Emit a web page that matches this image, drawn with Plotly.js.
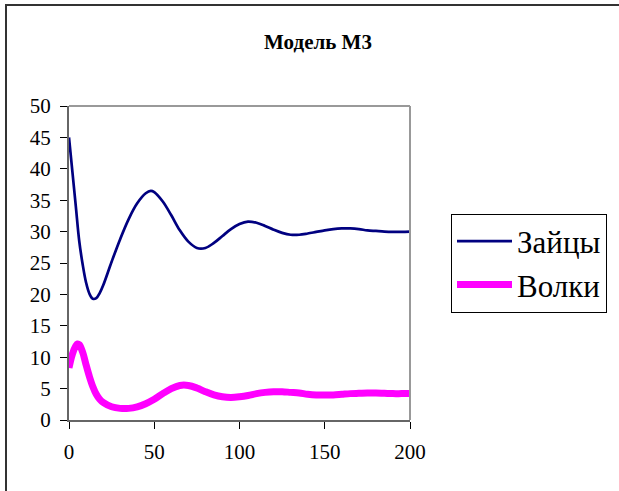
<!DOCTYPE html>
<html>
<head>
<meta charset="utf-8">
<script src="https://cdn.plot.ly/plotly-3.0.1.min.js"></script>
<style>
html,body{margin:0;padding:0;background:#fff;}
#wrap{position:relative;width:619px;height:491px;overflow:hidden;}
#frame{position:absolute;left:5px;top:4px;width:700px;height:600px;border:2px solid #333;box-sizing:border-box;pointer-events:none;z-index:5;}
#chart{position:absolute;left:0;top:0;width:619px;height:491px;}
</style>
</head>
<body>
<div id="wrap"><div id="chart"></div><div id="frame"></div></div>
<script>
const titleText = "Модель М3";
const seriesNames = ["Зайцы", "Волки"];

const tHares = [0,2,4,6,8,10,12,14,16,18,20,25,30,35,40,45,48,50,55,60,65,70,75,80,85,90,95,100,105,110,115,120,125,130,135,140,145,150,155,160,165,170,175,180,185,190,195,200];
const hares  = [45,39.5,34,28.5,24.8,21.9,20.1,19.3,19.4,20.2,21.4,25.2,28.8,32.0,34.5,36.1,36.5,36.3,34.8,32.6,30.2,28.4,27.4,27.4,28.2,29.3,30.4,31.2,31.6,31.4,30.9,30.3,29.8,29.5,29.5,29.7,29.95,30.2,30.4,30.5,30.5,30.4,30.2,30.1,30.0,29.95,29.95,30.0];

const tWolves = [0,2,4,5,6,8,10,12,14,16,18,20,25,30,35,40,45,50,55,60,65,70,75,80,85,90,95,100,105,110,115,120,125,130,135,140,145,150,155,160,165,170,175,180,185,190,195,200];
const wolves  = [8.3,10.5,11.8,12.1,12.0,10.8,8.8,6.9,5.3,4.1,3.3,2.8,2.1,1.85,1.85,2.1,2.6,3.3,4.2,5.0,5.5,5.5,5.1,4.5,4.0,3.7,3.6,3.7,3.9,4.2,4.4,4.5,4.5,4.4,4.3,4.1,4.0,4.0,4.0,4.1,4.2,4.25,4.3,4.3,4.25,4.2,4.2,4.2];

const xTicks = [0,50,100,150,200];
const yTicks = [0,5,10,15,20,25,30,35,40,45,50];

const serif = "Liberation Serif";

const traces = [
  {x: tHares, y: hares, name: seriesNames[0], type: "scatter", mode: "lines",
   line: {color: "#000080", width: 2.7, shape: "spline", smoothing: 1}},
  {x: tWolves, y: wolves, name: seriesNames[1], type: "scatter", mode: "lines",
   line: {color: "#FF00FF", width: 7, shape: "spline", smoothing: 1}}
];

const layout = {
  width: 619, height: 491,
  margin: {l: 69, r: 209, t: 106, b: 71, pad: 0},
  paper_bgcolor: "#fff", plot_bgcolor: "#fff",
  font: {family: serif, color: "#000", size: 20},
  title: {text: "<b>" + titleText + "</b>", font: {family: serif, size: 21, color: "#000"},
          x: 318/619, xanchor: "center", xref: "container", y: 1 - 42/491, yanchor: "middle", yref: "container"},
  xaxis: {range: [0, 200], tickvals: xTicks, ticktext: xTicks.map(String), ticks: "outside", ticklen: 7,
          tickcolor: "#000", tickwidth: 1, showgrid: false, zeroline: false, showline: true,
          linecolor: "#666", linewidth: 2, ticklabelstandoff: 5, tickfont: {family: serif, size: 21, color: "#000"}, fixedrange: true},
  yaxis: {range: [0, 50], tickvals: yTicks, ticktext: yTicks.map(String), ticks: "outside", ticklen: 7,
          tickcolor: "#000", tickwidth: 1, showgrid: false, zeroline: false, showline: true,
          linecolor: "#666", linewidth: 2, ticklabelstandoff: 5, tickfont: {family: serif, size: 21, color: "#000"}, fixedrange: true},
  shapes: [
    {type: "line", xref: "paper", yref: "paper", x0: 0, x1: 1, y0: 1, y1: 1, line: {color: "#999", width: 2}},
    {type: "line", xref: "paper", yref: "paper", x0: 1, x1: 1, y0: 0, y1: 1, line: {color: "#999", width: 2}}
  ],
  showlegend: true,
  legend: {x: (451-69)/341, y: (419.5-213)/314, xanchor: "left", yanchor: "top",
           bordercolor: "#000", borderwidth: 1, bgcolor: "#fff", itemwidth: 55,
           font: {family: serif, size: 31, color: "#000"}, tracegroupgap: 0}
};

Plotly.newPlot("chart", traces, layout, {displayModeBar: false, staticPlot: true});
</script>
</body>
</html>
